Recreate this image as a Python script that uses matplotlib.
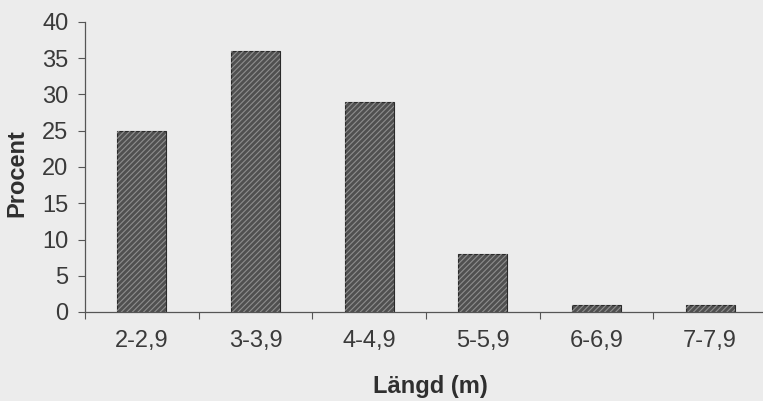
import matplotlib
matplotlib.use("Agg")
import matplotlib.pyplot as plt
import numpy as np

categories = ["2-2,9", "3-3,9", "4-4,9", "5-5,9", "6-6,9", "7-7,9"]
percent = [25, 36, 29, 8, 1, 1]
y_ticks = [0, 5, 10, 15, 20, 25, 30, 35, 40]

plt.rcParams["font.family"] = ["Liberation Sans", "DejaVu Sans"]
plt.rcParams["hatch.linewidth"] = 0.8

W, H = 763, 401
bg = "#ececec"
fig = plt.figure(figsize=(W / 100, H / 100), dpi=100, facecolor=bg)
ax = fig.add_axes([85 / W, 89 / H, 682 / W, 290 / H])
ax.set_facecolor(bg)

x = np.arange(len(categories))
bar_w = 0.43
ax.bar(x, percent, width=bar_w, color="#505050", edgecolor="#2a2a2a",
       linewidth=0.8, zorder=2)
ax.bar(x, percent, width=bar_w, color="none", edgecolor="#8e8e8e",
       hatch="//////", linewidth=0, zorder=3)

ax.set_xlim(-0.5, len(categories) - 0.5)
ax.set_ylim(0, 40)
ax.set_yticks(y_ticks)
ax.set_yticklabels([str(v) for v in y_ticks])

# category labels centred under bars, ticks at category boundaries
ax.set_xticks(np.arange(len(categories) + 1) - 0.5)
ax.set_xticklabels([])
ax.set_xticks(x, minor=True)
ax.set_xticklabels(categories, minor=True)
ax.tick_params(axis="x", which="minor", length=0, pad=13,
               labelsize=17, labelcolor="#3a3a3a")
ax.tick_params(axis="x", which="major", length=5, width=0.8,
               color="#555555", direction="out")
ax.tick_params(axis="y", length=5, width=0.8, color="#555555",
               labelsize=17, labelcolor="#3a3a3a", pad=7)

for side in ("top", "right"):
    ax.spines[side].set_visible(False)
for side in ("left", "bottom"):
    ax.spines[side].set_color("#555555")
    ax.spines[side].set_linewidth(0.9)

fig.text(17 / W, 1 - 173 / H, "Procent", rotation=90, ha="center",
         va="center", fontsize=17, fontweight="bold", color="#2f2f2f")
fig.text(430 / W, 1 - 386 / H, "Längd (m)", ha="center", va="center",
         fontsize=17, fontweight="bold", color="#2f2f2f")

fig.savefig("out.png", dpi=100, facecolor=fig.get_facecolor())
